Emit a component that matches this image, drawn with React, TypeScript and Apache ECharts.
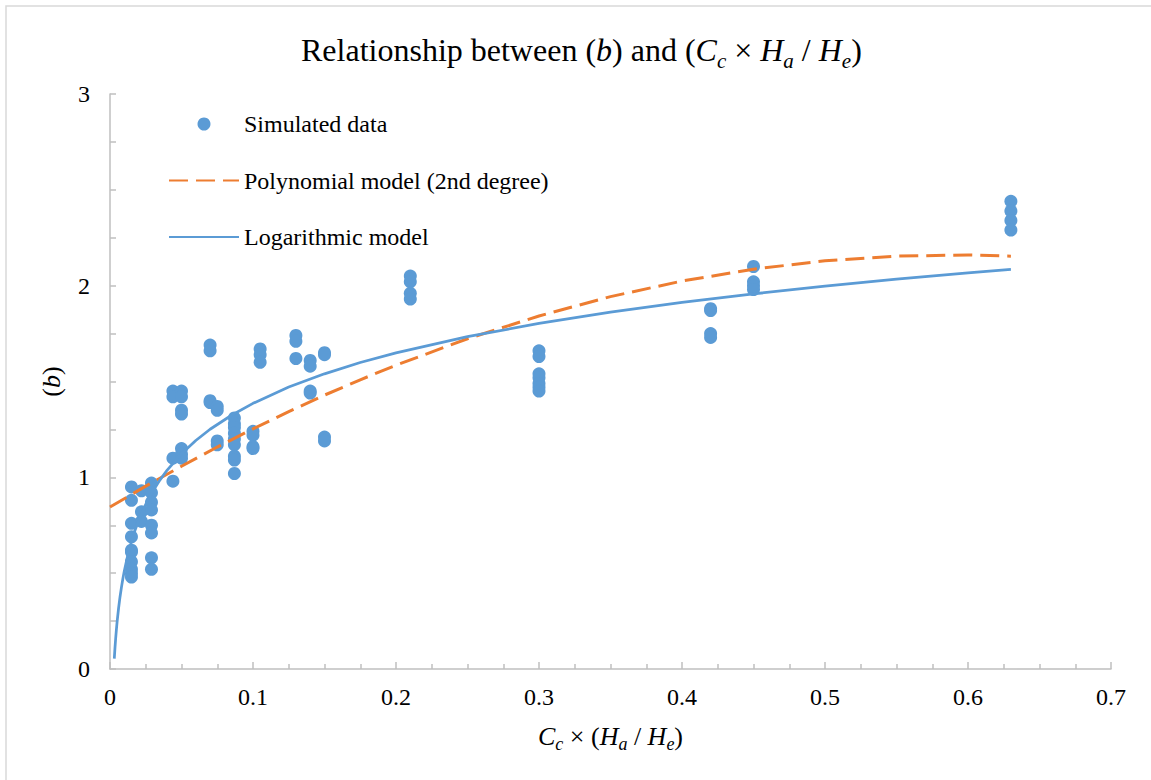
import React, { useEffect, useRef } from "react";
import * as echarts from "echarts";

const FONT = "Liberation Serif";

// Simulated data: x positions and the b values read at each x
const groupX = [0.015, 0.022, 0.029, 0.044, 0.05, 0.07, 0.075, 0.087, 0.1, 0.105, 0.13, 0.14, 0.15, 0.21, 0.3, 0.42, 0.45, 0.63];
const groupY = [
  [0.95, 0.88, 0.76, 0.69, 0.62, 0.61, 0.56, 0.52, 0.5, 0.48],
  [0.93, 0.82, 0.77],
  [0.97, 0.92, 0.87, 0.83, 0.75, 0.71, 0.58, 0.52],
  [1.45, 1.42, 1.1, 0.98],
  [1.45, 1.42, 1.35, 1.33, 1.15, 1.12, 1.1],
  [1.69, 1.66, 1.4, 1.39],
  [1.37, 1.35, 1.19, 1.17],
  [1.31, 1.28, 1.26, 1.23, 1.2, 1.17, 1.11, 1.09, 1.02],
  [1.24, 1.22, 1.16, 1.15],
  [1.67, 1.64, 1.6],
  [1.74, 1.71, 1.62],
  [1.61, 1.58, 1.45, 1.44],
  [1.65, 1.64, 1.21, 1.19],
  [2.05, 2.02, 1.96, 1.93],
  [1.66, 1.63, 1.54, 1.52, 1.49, 1.47, 1.45],
  [1.88, 1.87, 1.75, 1.73],
  [2.1, 2.02, 2.0, 1.98],
  [2.44, 2.39, 2.34, 2.29],
];

// Polynomial model curve
const polyX = [0, 0.025, 0.05, 0.075, 0.1, 0.125, 0.15, 0.175, 0.2, 0.25, 0.3, 0.35, 0.4, 0.45, 0.5, 0.55, 0.6, 0.63];
const polyY = [0.845, 0.954, 1.058, 1.158, 1.253, 1.343, 1.429, 1.509, 1.585, 1.723, 1.842, 1.943, 2.024, 2.086, 2.13, 2.154, 2.16, 2.154];

// Logarithmic model curve
const logX = [0.003, 0.0035, 0.004, 0.0045, 0.005, 0.006, 0.007, 0.008, 0.009, 0.01, 0.0125, 0.015, 0.0175, 0.02, 0.025, 0.03, 0.035, 0.04, 0.05, 0.06, 0.07, 0.085, 0.1, 0.125, 0.15, 0.175, 0.2, 0.25, 0.3, 0.35, 0.4, 0.45, 0.5, 0.55, 0.6, 0.63];
const logY = [0.054, 0.113, 0.163, 0.208, 0.248, 0.317, 0.376, 0.426, 0.471, 0.511, 0.596, 0.665, 0.724, 0.774, 0.859, 0.928, 0.987, 1.038, 1.123, 1.192, 1.251, 1.324, 1.386, 1.471, 1.54, 1.599, 1.649, 1.734, 1.803, 1.862, 1.913, 1.957, 1.998, 2.034, 2.067, 2.085];

const seriesNames = ["Simulated data", "Polynomial model (2nd degree)", "Logarithmic model"];
const xTickLabels = ["0", "0.1", "0.2", "0.3", "0.4", "0.5", "0.6", "0.7"];
const yTickLabels = ["0", "1", "2", "3"];

const BLUE = "#5B9BD5";
const ORANGE = "#ED7D31";
const AXIS = "#BFBFBF";

export default function App() {
  const ref = useRef<HTMLDivElement>(null);
  useEffect(() => {
    if (!ref.current) return;
    const chart = echarts.init(ref.current, undefined, { renderer: "svg" });
    const scatterData: number[][] = [];
    groupX.forEach((x, i) => groupY[i].forEach((y) => scatterData.push([x, y])));
    const polyData = polyX.map((x, i) => [x, polyY[i]]);
    const logData = logX.map((x, i) => [x, logY[i]]);

    const rich = (size: number, sub: number, lh: number) => ({
      t: { fontFamily: FONT, fontSize: size, lineHeight: lh, color: "#000" },
      i: { fontFamily: FONT, fontStyle: "italic", fontSize: size, lineHeight: lh, color: "#000" },
      s: { fontFamily: FONT, fontStyle: "italic", fontSize: sub, lineHeight: lh, verticalAlign: "bottom", color: "#000" },
    });

    chart.setOption({
      animation: false,
      backgroundColor: "#fff",
      textStyle: { fontFamily: FONT },
      title: {
        text: "{t|Relationship between (}{i|b}{t|) and (}{i|C}{s|c}{t| × }{i|H}{s|a}{t| / }{i|H}{s|e}{t|)}",
        left: 296,
        top: 24,
        textStyle: {
          fontFamily: FONT,
          fontSize: 32,
          fontWeight: "normal",
          color: "#000",
          lineHeight: 42,
          rich: rich(32, 21, 42),
        },
      },
      legend: {
        orient: "vertical",
        left: 168,
        top: 112,
        padding: 0,
        itemWidth: 70,
        itemHeight: 13,
        itemGap: 32.5,
        data: [
          { name: seriesNames[0] },
          { name: seriesNames[1], itemStyle: { opacity: 0 } },
          { name: seriesNames[2], itemStyle: { opacity: 0 } },
        ],
        formatter: (name: string) => "{t|" + name + "}",
        textStyle: { fontFamily: FONT, fontSize: 24, color: "#000", lineHeight: 24, rich: rich(24, 16, 24) },
      },
      grid: { left: 110, right: 40, top: 94, bottom: 111 },
      xAxis: {
        type: "value",
        min: 0,
        max: 0.7,
        interval: 0.1,
        name: "{i|C}{s|c}{t| × (}{i|H}{s|a}{t| / }{i|H}{s|e}{t|)}",
        nameLocation: "middle",
        nameGap: 50,
        nameTextStyle: { fontFamily: FONT, fontSize: 26, color: "#000", lineHeight: 34, rich: rich(26, 18, 34) },
        axisLine: { show: true, lineStyle: { color: AXIS, width: 1.5 } },
        axisTick: { show: true, inside: true, length: 7, lineStyle: { color: AXIS, width: 1.5 } },
        minorTick: { show: true, splitNumber: 4, length: 5, lineStyle: { color: AXIS, width: 1.5 } },
        splitLine: { show: false },
        axisLabel: {
          fontFamily: FONT,
          fontSize: 24,
          color: "#000",
          margin: 16,
          formatter: (v: number) => "{t|" + xTickLabels[Math.round(v * 10)] + "}",
          rich: rich(24, 16, 24),
        },
      },
      yAxis: {
        type: "value",
        min: 0,
        max: 3,
        interval: 1,
        name: "{t|(}{i|b}{t|)}",
        nameLocation: "middle",
        nameRotate: 90,
        nameGap: 36,
        nameTextStyle: { fontFamily: FONT, fontSize: 26, color: "#000", lineHeight: 32, rich: rich(26, 18, 32) },
        axisLine: { show: true, lineStyle: { color: AXIS, width: 1.5 } },
        axisTick: { show: true, inside: true, length: 6, lineStyle: { color: AXIS, width: 1.5 } },
        minorTick: { show: true, splitNumber: 4, length: 6, lineStyle: { color: AXIS, width: 1.5 } },
        splitLine: { show: false },
        axisLabel: {
          fontFamily: FONT,
          fontSize: 24,
          color: "#000",
          margin: 20,
          formatter: (v: number) => "{t|" + yTickLabels[Math.round(v)] + "}",
          rich: rich(24, 16, 24),
        },
      },
      graphic: [
        {
          type: "rect",
          shape: { x: 6, y: 6, width: 1200, height: 820 },
          style: { fill: "none", stroke: "#D9D9D9", lineWidth: 1.5 },
          silent: true,
        },
      ],
      series: [
        {
          name: seriesNames[0],
          type: "scatter",
          data: scatterData,
          symbol: "circle",
          symbolSize: 13,
          itemStyle: { color: BLUE, opacity: 1 },
          z: 2,
        },
        {
          name: seriesNames[1],
          type: "line",
          data: polyData,
          showSymbol: false,
          symbol: "none",
          smooth: false,
          lineStyle: { color: ORANGE, width: 3, type: [19, 8] },
          itemStyle: { color: ORANGE },
          z: 3,
        },
        {
          name: seriesNames[2],
          type: "line",
          data: logData,
          showSymbol: false,
          symbol: "none",
          smooth: false,
          lineStyle: { color: BLUE, width: 2.75 },
          itemStyle: { color: BLUE },
          z: 3,
        },
      ],
    });
    return () => chart.dispose();
  }, []);
  return (
    <div
      ref={ref}
      style={{ position: "absolute", left: 0, top: 0, width: 1151, height: 780, background: "#fff" }}
    />
  );
}
